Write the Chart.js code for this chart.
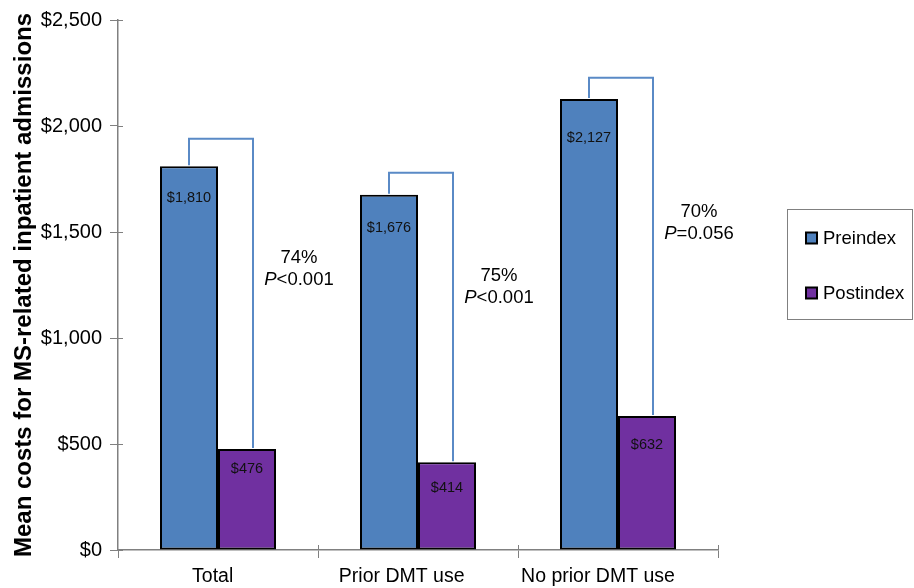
<!DOCTYPE html>
<html><head><meta charset="utf-8">
<script src="https://cdn.jsdelivr.net/npm/chart.js@4.4.1/dist/chart.umd.min.js"></script>
<style>html,body{margin:0;padding:0;background:#fff;}</style>
</head><body>
<canvas id="c" width="914" height="588"></canvas>
<script>
const categories = ["Total", "Prior DMT use", "No prior DMT use"];
const seriesNames = ["Preindex", "Postindex"];
const preindex = [1810, 1676, 2127];
const postindex = [476, 414, 632];
const preLabels = ["$1,810", "$1,676", "$2,127"];
const postLabels = ["$476", "$414", "$632"];
const changePct = ["74%", "75%", "70%"];
const pValues = ["<0.001", "<0.001", "=0.056"];
const bracketTop = [1940, 1780, 2228];
const annotationY = [1377, 1292, 1594];
const yTickValues = [0, 500, 1000, 1500, 2000, 2500];

const FONT = "'Liberation Sans', Arial, Helvetica, sans-serif";
const preColor = "#4f81bd";
const postColor = "#7030a0";
const axisColor = "#808080";
// pixel offsets of value labels below bar tops (style)
const preLabelOffset = [32, 33, 39];
const postLabelOffset = [20, 26, 29];

const overlay = {
  id: 'overlay',
  afterDraw(chart) {
    const ctx = chart.ctx;
    const y = chart.scales.y;
    const xs = chart.scales.x;
    const area = chart.chartArea;
    ctx.save();
    // inner parts of crossing tick marks
    ctx.strokeStyle = axisColor;
    ctx.lineWidth = 1;
    y.ticks.forEach(t => {
      const py = Math.round(y.getPixelForValue(t.value)) + 0.5;
      ctx.beginPath(); ctx.moveTo(area.left, py); ctx.lineTo(area.left + 5, py); ctx.stroke();
    });
    for (let i = 1; i <= categories.length; i++) {
      const px = Math.round(area.left + (area.right - area.left) * i / categories.length) + 0.5;
      ctx.beginPath(); ctx.moveTo(px, area.bottom); ctx.lineTo(px, area.bottom - 5); ctx.stroke();
    }
    // x category labels
    ctx.fillStyle = "#000";
    ctx.font = "19.5px " + FONT;
    ctx.textAlign = "center";
    ctx.textBaseline = "middle";
    categories.forEach((c, i) => {
      const w = ctx.measureText(c).width;
      ctx.fillText(c, xs.getPixelForValue(i) - 0.13 * w, area.bottom + 27);
    });
    ctx.restore();
  },
  afterDatasetsDraw(chart) {
    const ctx = chart.ctx;
    const y = chart.scales.y;
    const m0 = chart.getDatasetMeta(0).data;
    const m1 = chart.getDatasetMeta(1).data;
    ctx.save();
    // brackets
    ctx.strokeStyle = "#5a8ac6";
    ctx.lineWidth = 2;
    for (let i = 0; i < categories.length; i++) {
      const xl = m0[i].x, xr = m1[i].x + 6;
      const yt = y.getPixelForValue(bracketTop[i]);
      ctx.beginPath();
      ctx.moveTo(xl, m0[i].y - 1);
      ctx.lineTo(xl, yt);
      ctx.lineTo(xr, yt);
      ctx.lineTo(xr, m1[i].y - 1);
      ctx.stroke();
    }
    // value labels
    ctx.fillStyle = "#111";
    ctx.textAlign = "center";
    ctx.textBaseline = "middle";
    ctx.font = "14.5px " + FONT;
    for (let i = 0; i < categories.length; i++) {
      ctx.fillText(preLabels[i], m0[i].x, m0[i].y + preLabelOffset[i]);
      ctx.fillText(postLabels[i], m1[i].x, m1[i].y + postLabelOffset[i]);
    }
    // annotations
    const xs = chart.scales.x;
    ctx.fillStyle = "#000";
    for (let i = 0; i < categories.length; i++) {
      const cx = xs.getPixelForValue(i) + 81;
      const cy = y.getPixelForValue(annotationY[i]);
      ctx.font = "18.5px " + FONT;
      ctx.textAlign = "center";
      ctx.fillText(changePct[i], cx, cy);
      const italic = "italic 18.5px " + FONT, normal = "18.5px " + FONT;
      ctx.font = italic; const wP = ctx.measureText("P").width;
      ctx.font = normal; const wR = ctx.measureText(pValues[i]).width;
      const start = cx - (wP + wR) / 2;
      ctx.textAlign = "left";
      ctx.font = italic; ctx.fillText("P", start, cy + 22);
      ctx.font = normal; ctx.fillText(pValues[i], start + wP, cy + 22);
    }
    // legend
    ctx.strokeStyle = axisColor;
    ctx.lineWidth = 1;
    ctx.strokeRect(787.5, 209.5, 125, 110);
    const ly = [238, 293];
    chart.data.datasets.forEach((ds, k) => {
      ctx.fillStyle = ds.backgroundColor;
      ctx.fillRect(806, ly[k] - 5.5, 11, 11);
      ctx.strokeStyle = "#000";
      ctx.lineWidth = 2;
      ctx.strokeRect(806, ly[k] - 5.5, 11, 11);
      ctx.fillStyle = "#000";
      ctx.font = "18.5px " + FONT;
      ctx.textAlign = "left";
      ctx.textBaseline = "middle";
      ctx.fillText(ds.label, 823, ly[k] + 1);
    });
    ctx.restore();
  }
};

new Chart(document.getElementById('c'), {
  type: 'bar',
  data: {
    labels: categories,
    datasets: [
      { label: seriesNames[0], data: preindex, backgroundColor: preColor, borderColor: "#000", borderWidth: 2, borderSkipped: false },
      { label: seriesNames[1], data: postindex, backgroundColor: postColor, borderColor: "#000", borderWidth: 2, borderSkipped: false }
    ]
  },
  options: {
    responsive: false,
    animation: false,
    devicePixelRatio: 1,
    layout: { padding: { left: 0, right: 196, top: 20, bottom: 0 } },
    plugins: { legend: { display: false }, tooltip: { enabled: false } },
    datasets: { bar: { categoryPercentage: 0.58, barPercentage: 1.0 } },
    scales: {
      x: {
        grid: { drawOnChartArea: false, color: axisColor, tickLength: 8, offset: true },
        border: { color: axisColor, width: 1.5 },
        ticks: { color: "rgba(0,0,0,0)", font: { family: FONT, size: 19.5 }, padding: 7, maxRotation: 0 },
        afterFit(s) { s.height = 38; }
      },
      y: {
        min: 0, max: 2500,
        afterBuildTicks(s) { s.ticks = yTickValues.map(v => ({ value: v })); },
        grid: { drawOnChartArea: false, color: axisColor, tickLength: 8 },
        border: { color: axisColor, width: 1.5 },
        ticks: { color: "#000", font: { family: FONT, size: 20 }, padding: 8,
          callback: v => '$' + Number(v).toLocaleString('en-US') },
        title: { display: true, text: "Mean costs for MS-related inpatient admissions",
          color: "#000", font: { family: FONT, size: 24, weight: 'bold' }, padding: { top: 10, bottom: 0 } },
        afterFit(s) { s.width = 118; }
      }
    }
  },
  plugins: [overlay]
});
</script>
</body></html>
